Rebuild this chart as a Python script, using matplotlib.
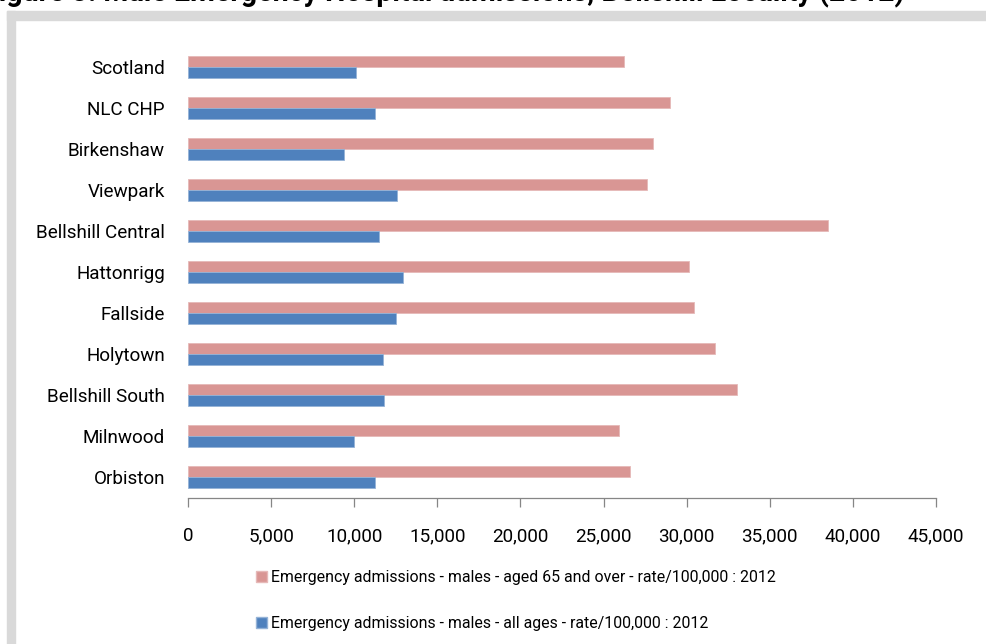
import matplotlib.pyplot as plt
from matplotlib.patches import Patch, Rectangle
from matplotlib.ticker import FuncFormatter
import numpy as np

# emergency admission rates per 100,000 males, 2012
areas = ["Scotland", "NLC CHP", "Birkenshaw", "Viewpark", "Bellshill Central",
         "Hattonrigg", "Fallside", "Holytown", "Bellshill South", "Milnwood", "Orbiston"]
aged_65_over = [26200, 29000, 28000, 27600, 38500, 30150, 30450, 31700, 33050, 25900, 26600]
all_ages = [10100, 11250, 9400, 12550, 11500, 12950, 12500, 11750, 11800, 10000, 11250]

label_65 = "Emergency admissions - males - aged 65 and over - rate/100,000 : 2012"
label_all = "Emergency admissions - males - all ages - rate/100,000 : 2012"
title = "Figure 3: Male Emergency Hospital admissions, Bellshill Locality (2012)"

pink = "#d99694"
blue = "#4f81bd"
grey = "#868686"

plt.rcParams['font.family'] = ['Roboto', 'DejaVu Sans']

fig = plt.figure(figsize=(9.86, 6.44), dpi=100)
ax = fig.add_axes([188 / 986, 1 - 497.5 / 644, (936 - 188) / 986, (497.5 - 46.5) / 644])

# frame around the chart (top and left bands only are visible)
fig.patches.append(Rectangle((7 / 986, 1 - 20 / 644), 1, 9 / 644,
                             transform=fig.transFigure, color="#d9d9d9", zorder=0))
fig.patches.append(Rectangle((7 / 986, 0), 8 / 986, 1 - 11 / 644,
                             transform=fig.transFigure, color="#d9d9d9", zorder=0))

# title sits above the frame, mostly cut off by the page edge
fig.text(-17 / 986, 1 - 1.5 / 644, title, fontsize=20.6, fontweight='bold',
         ha='left', va='baseline')

pos = np.arange(len(areas))
h = 0.28
ax.barh(pos - h / 2, aged_65_over, height=h, color=pink, edgecolor="#e6b9b8", linewidth=0.6)
ax.barh(pos + h / 2, all_ages, height=h, color=blue, edgecolor="#95b3d7", linewidth=0.6)

ax.set_xlim(0, 45000)
ax.set_ylim(len(areas) - 0.5, -0.5)
ax.set_xticks(np.arange(0, 45001, 5000))
ax.xaxis.set_major_formatter(FuncFormatter(lambda v, p: "{:,.0f}".format(v)))
ax.set_yticks(pos)
ax.set_yticklabels(areas)

for s in ["top", "right", "left"]:
    ax.spines[s].set_visible(False)
ax.spines["bottom"].set_color(grey)
ax.spines["bottom"].set_linewidth(0.9)
ax.tick_params(axis='x', direction='out', length=6.5, width=0.9, color=grey,
               labelsize=13.6, pad=15)
ax.tick_params(axis='y', length=0, labelsize=13.6, pad=16.6)

handles = [Patch(facecolor=pink, edgecolor="#e6b9b8"), Patch(facecolor=blue, edgecolor="#95b3d7")]
fig.legend(handles, [label_65, label_all], loc='upper left',
           bbox_to_anchor=(256 / 986, 1 - 570 / 644), frameon=False,
           fontsize=11.45, handlelength=0.69, handleheight=0.75,
           handletextpad=0.25, labelspacing=1.95, borderpad=0, borderaxespad=0)

plt.savefig("out.png", dpi=100, facecolor="white")
